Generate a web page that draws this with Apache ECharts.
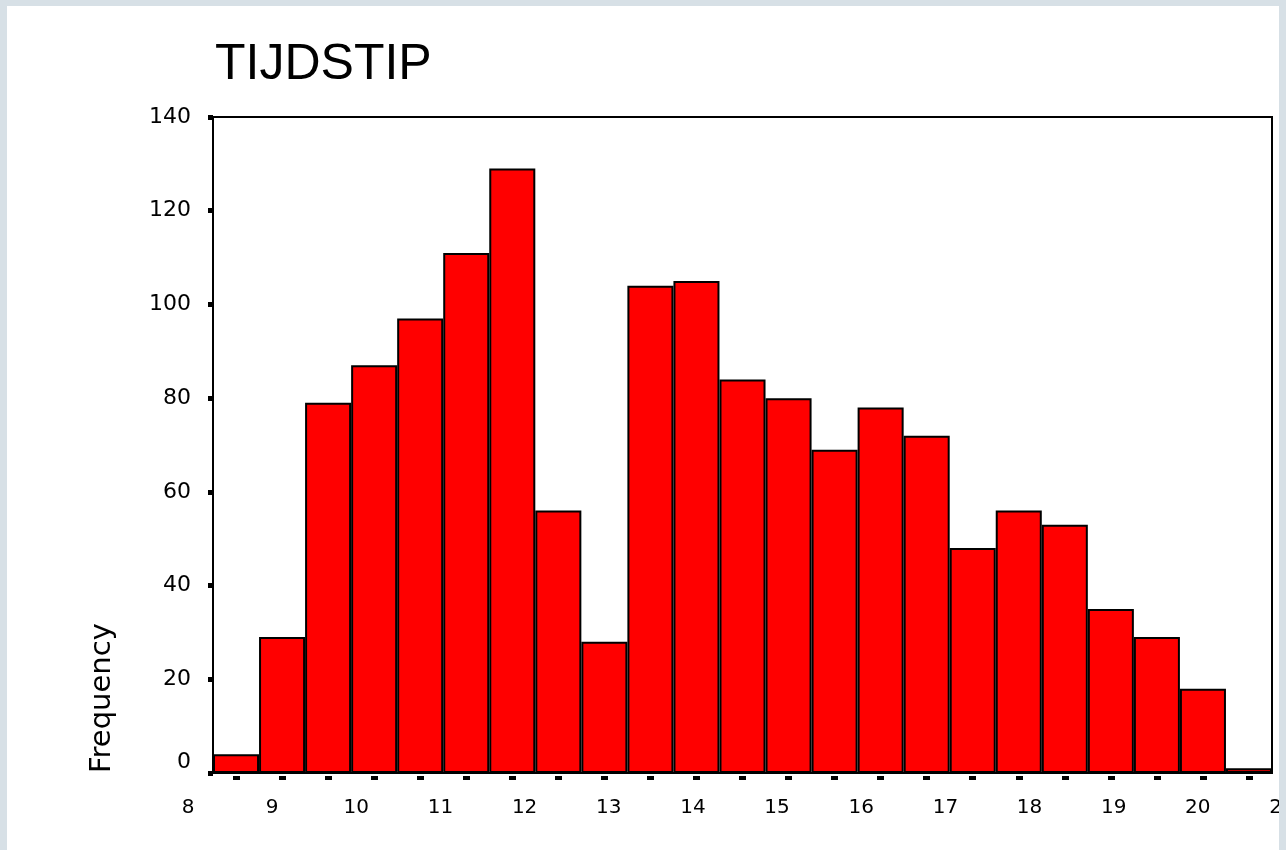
<!DOCTYPE html>
<html>
<head>
<meta charset="utf-8">
<script src="https://cdn.jsdelivr.net/npm/echarts@6/dist/echarts.min.js"></script>
<style>
    body { margin: 0; background: #d7e0e6; }
    #MyChart { position: absolute; left: 7px; top: 6px; width: 1272px; height: 844px; background: #ffffff; }
</style>
</head>
<body>
<div id="MyChart"></div>
<script>
// 柱子分组 (23 个区间) 和频数
var Bins = ['b1', 'b2', 'b3', 'b4', 'b5', 'b6', 'b7', 'b8', 'b9', 'b10', 'b11', 'b12',
    'b13', 'b14', 'b15', 'b16', 'b17', 'b18', 'b19', 'b20', 'b21', 'b22', 'b23']
var Frequency = [4, 29, 79, 87, 97, 111, 129, 56, 28, 104, 105, 84,
    80, 69, 78, 72, 48, 56, 53, 35, 29, 18, 1]
// x 轴刻度 (小时)
var HourMin = 8
var HourMax = 21

var chartDom = document.getElementById('MyChart');
var myChart = echarts.init(chartDom);
var option;

option = {
    animation: false,
    title: {
        text: 'TIJDSTIP',
        left: 203,
        top: 29,
        textStyle: {
            color: '#000000',
            fontWeight: 'normal',
            fontFamily: 'Liberation Sans',
            fontSize: 50
        }
    },
    graphic: [
        {
            type: 'text',
            x: 95,
            y: 767,
            rotation: Math.PI / 2,
            style: {
                text: 'Frequency',
                fill: '#000000',
                font: '29px "DejaVu Sans"',
                textAlign: 'left',
                textVerticalAlign: 'middle'
            }
        }
    ],
    grid: [
        {   // 柱状图区域
            left: 206,
            right: 7,
            top: 111,
            bottom: 77,
            outerBoundsMode: 'none',
            show: true,
            borderColor: '#000000',
            borderWidth: 2,
            backgroundColor: 'transparent'
        },
        {   // 只用来放小时标签
            left: 181,
            width: 1094,
            top: 111,
            bottom: 77,
            outerBoundsMode: 'none',
            show: false
        }
    ],
    xAxis: [
        {
            type: 'category',
            gridIndex: 0,
            data: Bins,
            offset: 3,
            axisLine: {show: false, onZero: false},
            axisTick: {
                show: true,
                alignWithLabel: true,
                length: 4,
                lineStyle: {color: '#000000', width: 7}
            },
            axisLabel: {show: false}
        },
        {
            type: 'value',
            gridIndex: 1,
            min: HourMin,
            max: HourMax,
            interval: 1,
            axisLine: {show: false, onZero: false},
            axisTick: {show: false},
            splitLine: {show: false},
            axisLabel: {
                show: true,
                margin: 25,
                color: '#000000',
                fontFamily: 'DejaVu Sans',
                fontSize: 20,
                showMinLabel: true,
                showMaxLabel: true
            }
        }
    ],
    yAxis: [
        {
            type: 'value',
            gridIndex: 0,
            min: 0,
            max: 140,
            interval: 20,
            axisLine: {show: false},
            splitLine: {show: false},
            axisTick: {
                show: true,
                length: 5,
                lineStyle: {color: '#000000', width: 5}
            },
            axisLabel: {
                margin: 22,
                color: '#000000',
                fontFamily: 'DejaVu Sans',
                fontSize: 22,
                formatter: function (v) {
                    // 0 的标签往上挪一点
                    return v === 0 ? '{z|0}' : String(v)
                },
                rich: {
                    z: {
                        fontFamily: 'DejaVu Sans',
                        fontSize: 22,
                        color: '#000000',
                        padding: [0, 0, 22, 0]
                    }
                }
            }
        },
        {
            type: 'value',
            gridIndex: 1,
            show: false
        }
    ],
    series: [
        {
            type: 'bar',
            xAxisIndex: 0,
            yAxisIndex: 0,
            data: Frequency,
            barWidth: '100%',
            barCategoryGap: 0,
            itemStyle: {
                color: '#ff0000',
                borderColor: '#000000',
                borderWidth: 2
            }
        }
    ]
};

option && myChart.setOption(option);
</script>
</body>
</html>
